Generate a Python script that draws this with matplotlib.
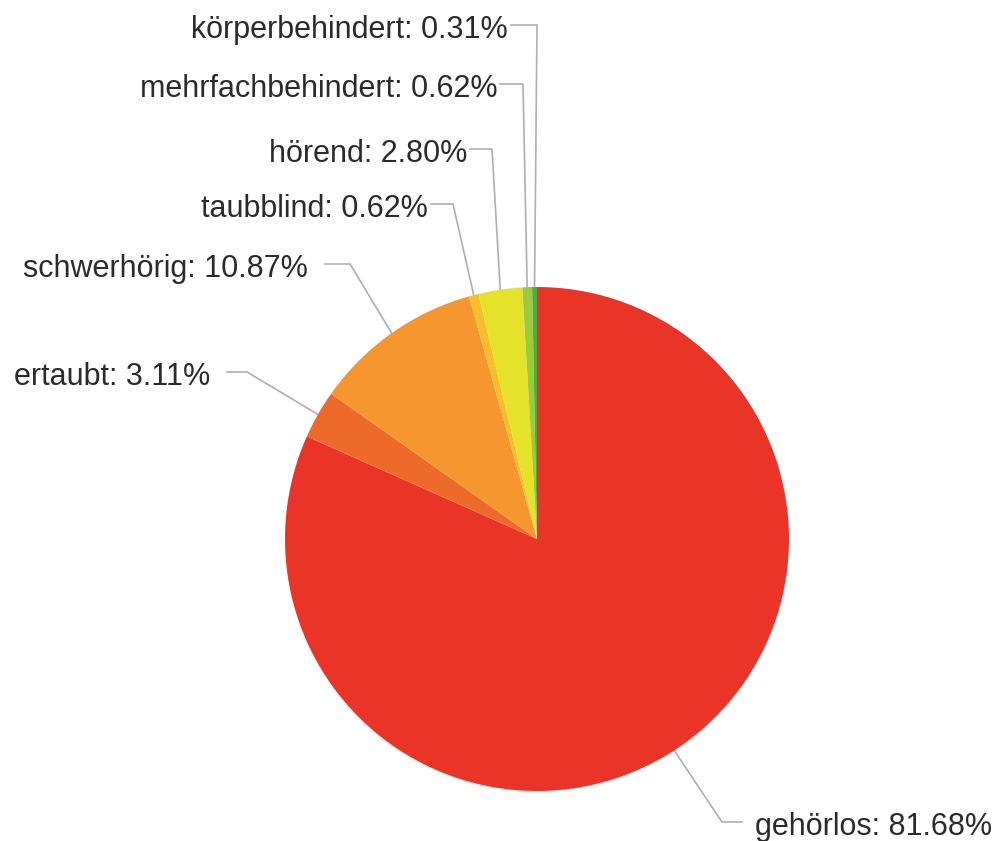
import numpy as np
import matplotlib
matplotlib.use('Agg')
import matplotlib.pyplot as plt

# data
labels = ['gehörlos', 'ertaubt', 'schwerhörig', 'taubblind', 'hörend',
          'mehrfachbehindert', 'körperbehindert']
shares = [81.68, 3.11, 10.87, 0.62, 2.80, 0.62, 0.31]

colors = ['#eb3428', '#ee6a2a', '#f5962e', '#f8be2a', '#e4e32a', '#9bcb3c', '#4caf3a']

# layout (pixel coords, y from top): text x, line start x, elbow x, baseline y, side
W, H = 1008, 841
cx, cy, r = 537, 539, 252
label_pos = {
    'körperbehindert':   (508, 511, 537, 38, 'l'),
    'mehrfachbehindert': (498, 500, 523, 97, 'l'),
    'hörend':            (467, 470, 492, 162, 'l'),
    'taubblind':         (428, 431, 453, 217, 'l'),
    'schwerhörig':       (308, 325, 350, 277, 'l'),
    'ertaubt':           (210, 227, 247, 385, 'l'),
    'gehörlos':          (755, 742, 722, 835, 'r'),
}

plt.rcParams['font.family'] = ['Liberation Sans', 'DejaVu Sans']

fig = plt.figure(figsize=(W / 100, H / 100), dpi=100)
ax = fig.add_axes([0, 0, 1, 1])

wedges, _ = ax.pie(shares, colors=colors, startangle=90, counterclock=False,
                   radius=r, center=(cx, H - cy),
                   wedgeprops=dict(linewidth=0))
ax.set_xlim(0, W)
ax.set_ylim(0, H)
ax.set_aspect('equal')
ax.axis('off')

for w, lab, val in zip(wedges, labels, shares):
    ang = np.deg2rad((w.theta1 + w.theta2) / 2)
    ex = cx + r * np.cos(ang)
    ey = (H - cy) + r * np.sin(ang)
    tx, sx, elx, base, side = label_pos[lab]
    ly = H - (base - 13)
    ax.plot([sx, elx, ex], [ly, ly, ey], color='#b0b0b0', lw=1.2,
            solid_joinstyle='miter', zorder=0)
    ax.text(tx, H - base, f'{lab}: {val:.2f}%',
            ha='right' if side == 'l' else 'left', va='baseline',
            fontsize=22, color='#2b2b2b')

fig.savefig('out.png', dpi=100)
